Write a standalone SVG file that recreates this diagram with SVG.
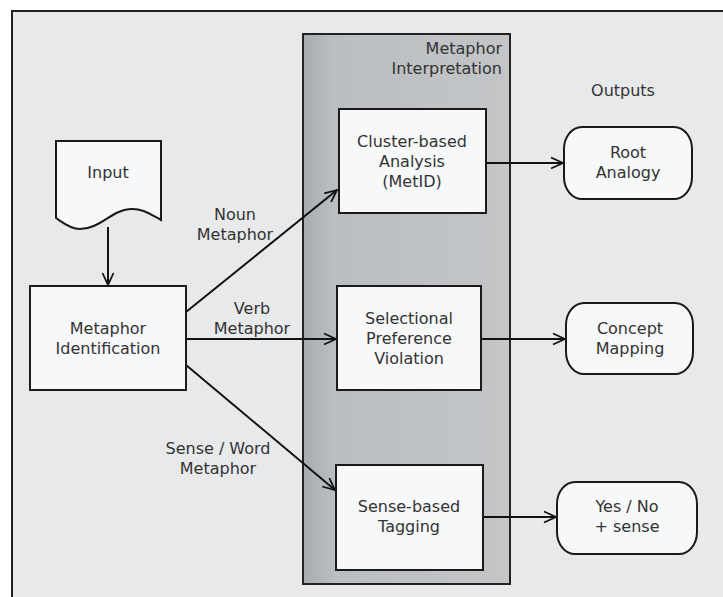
<svg xmlns="http://www.w3.org/2000/svg" width="723" height="597" viewBox="0 0 723 597">
<defs>
<style>
text{font-family:"DejaVu Sans","Liberation Sans",sans-serif;font-size:16px;fill:#333;text-anchor:middle}
.box{fill:#f7f8f9;stroke:#1a1a1a;stroke-width:2}
.con{stroke:#111;stroke-width:2;fill:none;marker-end:url(#arr)}
</style>
<marker id="arr" viewBox="0 0 14 14" refX="13" refY="7" markerWidth="14" markerHeight="14" markerUnits="userSpaceOnUse" orient="auto">
<path d="M1,1.5 L13,7 L1,12.5" fill="none" stroke="#111" stroke-width="1.8"/>
</marker>
<linearGradient id="cg" x1="0" y1="0" x2="1" y2="0">
<stop offset="0" stop-color="#a9acaf"/>
<stop offset="0.15" stop-color="#bbbec1"/>
<stop offset="1" stop-color="#c3c5c7"/>
</linearGradient>
</defs>
<rect x="0" y="0" width="723" height="597" fill="#ffffff"/>
<rect id="frame" x="12" y="11" width="720" height="600" fill="#e7e9eb" stroke="#222" stroke-width="2"/>
<g id="container">
<rect x="303" y="34" width="207" height="550" fill="url(#cg)" stroke="#222" stroke-width="2"/>
<text x="502" y="54" style="text-anchor:end">Metaphor</text>
<text x="502" y="74" style="text-anchor:end">Interpretation</text>
</g>
<text x="623" y="96">Outputs</text>
<g id="connectors">
<line class="con" x1="108" y1="227" x2="108" y2="285"/>
<line class="con" x1="186" y1="312" x2="337" y2="190"/>
<line class="con" x1="186" y1="339" x2="336" y2="339"/>
<line class="con" x1="186" y1="365" x2="335" y2="490"/>
<line class="con" x1="486" y1="163" x2="563" y2="163"/>
<line class="con" x1="481" y1="339" x2="565" y2="339"/>
<line class="con" x1="483" y1="517" x2="556" y2="517"/>
<text x="235" y="220">Noun</text>
<text x="235" y="240">Metaphor</text>
<text x="252" y="314">Verb</text>
<text x="252" y="334">Metaphor</text>
<text x="218" y="454">Sense / Word</text>
<text x="218" y="474">Metaphor</text>
</g>
<g id="input">
<path class="box" d="M56,141 L161,141 L161,220 C150,214 142,208 130,209 C112,210 100,229 80,229 C70,229 62,222 56,218 Z"/>
<text x="108" y="178">Input</text>
</g>
<g id="metaphor-identification">
<rect class="box" x="30" y="286" width="156" height="104"/>
<text x="108" y="334">Metaphor</text>
<text x="108" y="354">Identification</text>
</g>
<g id="cluster-based">
<rect class="box" x="339" y="109" width="147" height="104"/>
<text x="412" y="147">Cluster-based</text>
<text x="412" y="167">Analysis</text>
<text x="412" y="187">(MetID)</text>
</g>
<g id="selectional">
<rect class="box" x="337" y="286" width="144" height="104"/>
<text x="409" y="324">Selectional</text>
<text x="409" y="344">Preference</text>
<text x="409" y="364">Violation</text>
</g>
<g id="sense-based">
<rect class="box" x="336" y="465" width="147" height="105"/>
<text x="409" y="512">Sense-based</text>
<text x="409" y="532">Tagging</text>
</g>
<g id="root-analogy">
<rect class="box" x="564" y="127" width="128" height="72" rx="18" ry="22"/>
<text x="628" y="158">Root</text>
<text x="628" y="178">Analogy</text>
</g>
<g id="concept-mapping">
<rect class="box" x="566" y="303" width="127" height="71" rx="18" ry="22"/>
<text x="630" y="334">Concept</text>
<text x="630" y="354">Mapping</text>
</g>
<g id="yes-no">
<rect class="box" x="557" y="482" width="140" height="72" rx="18" ry="22"/>
<text x="627" y="512">Yes / No</text>
<text x="627" y="532">+ sense</text>
</g>
</svg>
